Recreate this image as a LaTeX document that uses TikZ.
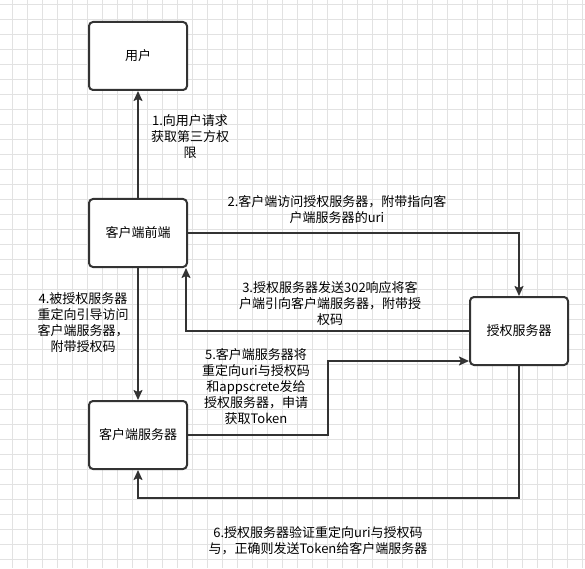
\documentclass[tikz,border=0pt]{standalone}
\usepackage{fontspec}
\newfontfamily\cjk{Noto Sans CJK SC}
\usetikzlibrary{positioning,arrows.meta}
\definecolor{FlowInk}{RGB}{51,51,51}
\definecolor{FlowGrid}{RGB}{226,226,226}
\tikzset{
  flow box/.style={
    draw=FlowInk,
    line width=2pt,
    rounded corners=4pt,
    fill=white,
    align=center,
    font=\cjk\fontsize{13}{16}\selectfont,
    inner sep=0pt,
    minimum width=98pt,
    minimum height=68pt
  },
  flow arrow/.style={-{Stealth[length=10pt,width=9pt,inset=2pt]}, line width=1.8pt, FlowInk},
  flow label/.style={font=\cjk\fontsize{13}{16}\selectfont, align=center, inner sep=0pt},
  flow grid/.style={FlowGrid, line width=0.8pt}
}

\begin{document}
\begin{tikzpicture}[x=1pt,y=1pt]
\useasboundingbox (0,0) rectangle (585,568);
% background grid
\foreach \gx in {12,27,...,582} \draw[flow grid] (\gx,0)--(\gx,568);
\foreach \gy in {9,24,...,564} \draw[flow grid] (0,\gy)--(585,\gy);
% parties
\node[flow box] (user) at (138,512) {用户};
\node[flow box, below=107pt of user] (front) {客户端前端};
\node[flow box, below=132pt of front] (cserver) {客户端服务器};
\node[flow box, right=281pt of front, yshift=-98pt] (auth) {授权服务器};
% steps
\node[flow label] (s1) at (190,431) {1.向用户请求\\获取第三方权\\限};
\node[flow label] (s2) at (337,358) {2.客户端访问授权服务器，附带指向客\\户端服务器的uri};
\node[flow label] (s3) at (330,264) {3.授权服务器发送302响应将客\\户端引向客户端服务器，附带授\\权码};
\node[flow label] (s4) at (83,245) {4.被授权服务器\\重定向引导访问\\客户端服务器，\\附带授权码};
\node[flow label] (s5) at (256,181) {5.客户端服务器将\\重定向uri与授权码\\和appscrete发给\\授权服务器，申请\\获取Token};
\node[flow label] (s6) at (318,27) {6.授权服务器验证重定向uri与授权码\\与，正确则发送Token给客户端服务器};
\draw[flow arrow] (front)--(user);
\draw[flow arrow] (front.east)-|(auth.north);
\draw[flow arrow] (auth.west)-|([xshift=-2pt]front.south east);
\draw[flow arrow] (front)--(cserver);
\draw[flow arrow] (cserver.east)--++(140,0)|-([yshift=-30pt]auth.west);
\draw[flow arrow] (auth.south)--++(0,-132)-|(cserver.south);
\end{tikzpicture}
\end{document}
